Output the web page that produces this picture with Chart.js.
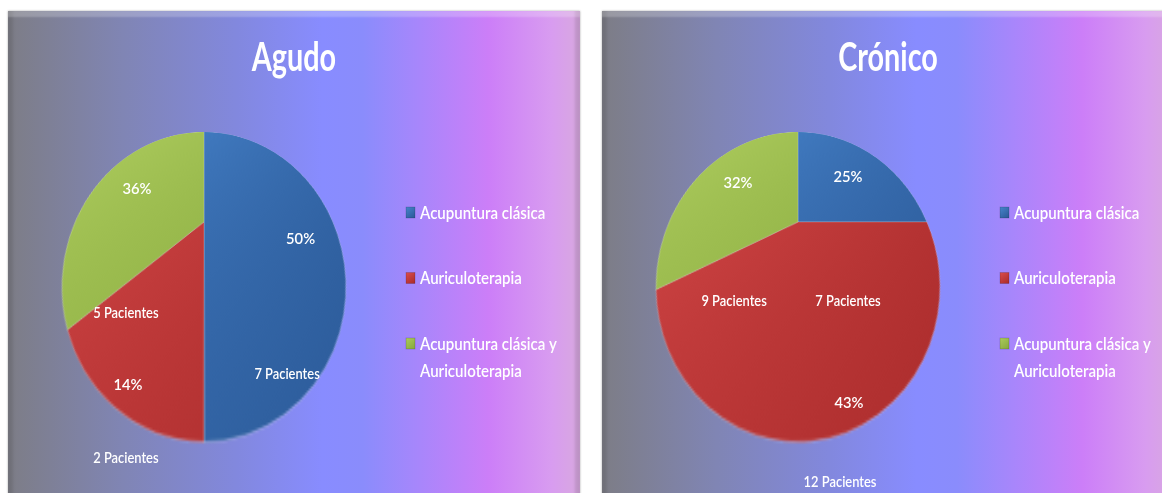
<!DOCTYPE html>
<html lang="es">
<head>
<meta charset="utf-8">
<title>Agudo / Crónico</title>
<script src="https://cdn.jsdelivr.net/npm/chart.js@4.4.1/dist/chart.umd.min.js"></script>
<style>
  body { margin: 0; width: 1162px; height: 493px; overflow: hidden; background: #fff; position: relative; }
  .panel {
    position: absolute; top: 11px; width: 572px; height: 490px; overflow: hidden;
    background: linear-gradient(to right, #7d7d86 0%, #8085b4 20%, #8288de 40%, #888cff 55%, #8a8cfc 62%, #a886fb 72%, #cc7ef8 84%, #d89cf0 95%, #d8a8e0 100%);
    box-shadow: inset 0 7px 2px -1px rgba(255,255,255,0.22), inset 7px 0 3px -2px rgba(0,0,0,0.10),
                inset -7px 0 3px -2px rgba(0,0,0,0.12), 0 0 2px rgba(0,0,0,0.35);
  }
  .panel canvas { position: absolute; left: 0; top: 0; transform-origin: 0 0; }
</style>
</head>
<body>
<div class="panel" style="left:8px">
  <canvas id="agudo" width="300" height="300"></canvas>
  <canvas id="agudoText" width="572" height="482"></canvas>
</div>
<div class="panel" style="left:602px">
  <canvas id="cronico" width="300" height="300"></canvas>
  <canvas id="cronicoText" width="572" height="482"></canvas>
</div>

<script>
const categories = ['Acupuntura clásica', 'Auriculoterapia', 'Acupuntura clásica y Auriculoterapia'];
const agudoPacientes = [7, 2, 5];
const cronicoPacientes = [7, 12, 9];

// slice shading, light corner to dark corner
const sliceLight = ['#4784cc', '#da4c4c', '#abca5c'];
const sliceDark = ['#2a5896', '#a82a2a', '#86a83c'];

// tilted pie: centre, half axes of the outline and the tilt of the disc
const PIE = { x: 196, y: 276, rx: 142, ry: 155, tilt: 0.42 };

// label spots around the pie outline, in half axes [dx, dy]
const agudoPctPos = [[0.68, -0.31], [-0.535, 0.632], [-0.472, -0.632]];
const agudoCntPos = [[0.585, 0.561], [-0.55, 1.103], [-0.55, 0.168]];
const cronicoPctPos = [[0.352, -0.71], [0.359, 0.748], [-0.423, -0.671]];
const cronicoCntPos = [[0.352, 0.09], [0.296, 1.26], [-0.45, 0.09]];

const FONT = 'Lato, "Open Sans", sans-serif';

// narrow text, squeezed horizontally
function narrowText(ctx, text, x, y, sx) {
    ctx.save();
    ctx.translate(x, y);
    ctx.scale(sx, 1);
    ctx.fillText(text, 0, 0);
    ctx.restore();
}

function wrapWords(ctx, text, maxWidth, sx) {
    const words = text.split(' ');
    const lines = [];
    let line = '';
    words.forEach(w => {
        const test = line ? line + ' ' + w : w;
        if (line && ctx.measureText(test).width * sx > maxWidth) {
            lines.push(line);
            line = w;
        } else {
            line = test;
        }
    });
    lines.push(line);
    return lines;
}

// perspective map of the flat pie (centre cx,cy radius R) onto the panel:
// u=(x-cx)/R, v=(y-cy)/R  ->  X = X0 + sx*u/(1-k*v), Y = Y0 + sy*(v-k)/(1-k*v)
function tiltMatrix(cx, cy, R) {
    const k = PIE.tilt;
    const sx = PIE.rx * Math.sqrt(1 - k * k);
    const sy = PIE.ry;
    const b3 = -k / R;
    const c3 = 1 + k * cy / R;
    const a1 = sx / R;
    const b1 = PIE.x * b3;
    const c1 = PIE.x * c3 - sx * cx / R;
    const b2 = sy / R + PIE.y * b3;
    const c2 = PIE.y * c3 - sy * (cy / R + k);
    return `matrix3d(${a1},0,0,0,${b1},${b2},0,${b3},0,0,1,0,${c1},${c2},0,${c3})`;
}

function sliceFill(c) {
    const area = c.chart.chartArea;
    if (!area) return sliceDark[c.dataIndex];
    const g = c.chart.ctx.createLinearGradient(area.left, area.top, area.right, area.bottom);
    g.addColorStop(0, sliceLight[c.dataIndex]);
    g.addColorStop(1, sliceDark[c.dataIndex]);
    return g;
}

function panelText(textCanvas, title, pctPos, cntPos) {
    return {
        id: 'panelText',
        afterDraw(chart) {
            const arc = chart.getDatasetMeta(0).data[0];
            chart.canvas.style.transform = tiltMatrix(arc.x, arc.y, arc.outerRadius);

            const values = chart.data.datasets[0].data;
            const total = values.reduce((a, b) => a + b, 0);
            const ctx = textCanvas.getContext('2d');
            ctx.clearRect(0, 0, textCanvas.width, textCanvas.height);
            ctx.save();
            ctx.fillStyle = '#ffffff';
            ctx.textAlign = 'center';
            ctx.textBaseline = 'middle';

            ctx.font = 'bold 40px ' + FONT;
            narrowText(ctx, title, textCanvas.width / 2, 47, 0.72);

            // percentages and patient counts
            values.forEach((v, i) => {
                const pct = Math.round(v / total * 100) + '%';
                ctx.font = '600 16px ' + FONT;
                narrowText(ctx, pct, PIE.x + pctPos[i][0] * PIE.rx, PIE.y + pctPos[i][1] * PIE.ry, 0.92);
                ctx.font = '600 15px ' + FONT;
                narrowText(ctx, v + ' Pacientes', PIE.x + cntPos[i][0] * PIE.rx, PIE.y + cntPos[i][1] * PIE.ry, 0.86);
            });

            // legend on the right
            ctx.textAlign = 'left';
            ctx.font = '600 17.5px ' + FONT;
            const boxX = 398, textX = 412, rowY = 202, rowGap = 65.5, lineH = 27;
            categories.forEach((label, i) => {
                const y = rowY + i * rowGap;
                const g = ctx.createLinearGradient(boxX, y - 6, boxX + 9, y + 5);
                g.addColorStop(0, sliceLight[i]);
                g.addColorStop(1, sliceDark[i]);
                ctx.fillStyle = g;
                ctx.fillRect(boxX, y - 6, 9, 11);
                ctx.strokeStyle = 'rgba(0,0,0,0.25)';
                ctx.lineWidth = 0.6;
                ctx.strokeRect(boxX, y - 6, 9, 11);
                ctx.fillStyle = '#ffffff';
                wrapWords(ctx, label, 150, 0.86).forEach((line, j) => {
                    narrowText(ctx, line, textX, y + j * lineH, 0.86);
                });
            });
            ctx.restore();
        }
    };
}

function makePie(id, title, counts, pctPos, cntPos) {
    return new Chart(document.getElementById(id), {
        type: 'pie',
        data: {
            labels: categories,
            datasets: [{
                data: counts,
                backgroundColor: sliceFill,
                borderColor: 'rgba(255,255,255,0.22)',
                borderWidth: 1,
                hoverOffset: 0
            }]
        },
        options: {
            responsive: false,
            animation: false,
            layout: { padding: 6 },
            plugins: {
                legend: { display: false },
                title: { display: false },
                tooltip: { enabled: false }
            }
        },
        plugins: [panelText(document.getElementById(id + 'Text'), title, pctPos, cntPos)]
    });
}

const agudoChart = makePie('agudo', 'Agudo', agudoPacientes, agudoPctPos, agudoCntPos);
const cronicoChart = makePie('cronico', 'Crónico', cronicoPacientes, cronicoPctPos, cronicoCntPos);
</script>
</body>
</html>
